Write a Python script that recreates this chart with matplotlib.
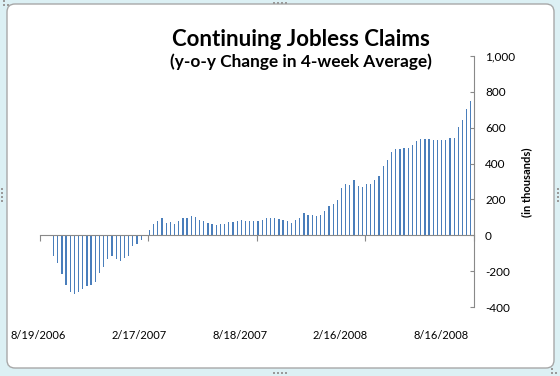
import matplotlib.pyplot as plt
from matplotlib.patches import FancyBboxPatch, Rectangle

# weekly y-o-y change in 4-week average of continuing claims (thousands), starting 8/19/2006
claims_change = [
    -2, -4, -6, -113, -155, -218, -279, -316, -329, -316,
    -301, -285, -279, -263, -213, -179, -135, -113, -135, -146,
    -124, -118, -61, -50, -24, -6, 31, 65, 81, 98,
    70, 76, 65, 81, 98, 98, 109, 104, 87, 81,
    70, 65, 59, 65, 65, 76, 76, 81, 87, 81,
    81, 81, 81, 87, 98, 98, 98, 92, 87, 81,
    70, 87, 98, 126, 115, 115, 109, 115, 137, 165,
    176, 198, 265, 286, 280, 310, 275, 269, 286, 286,
    308, 330, 386, 419, 464, 480, 480, 486, 486, 503,
    525, 536, 536, 536, 531, 531, 531, 531, 542, 542,
    603, 642, 703, 748,
]
date_labels = ['8/19/2006', '2/17/2007', '8/18/2007', '2/16/2008', '8/16/2008']
y_ticks = [-400, -200, 0, 200, 400, 600, 800, 1000]

plt.rcParams['font.family'] = ['Lato', 'DejaVu Sans']
bar_color = '#4a7ebb'
axis_color = '#898989'

fig = plt.figure(figsize=(5.6, 3.76), dpi=100)
fig.patch.set_facecolor('#dcf0f4')

# white rounded chart area
frame = FancyBboxPatch((0.15, 0.16), 5.31, 3.48, boxstyle='round,pad=0.08',
                       transform=fig.dpi_scale_trans, facecolor='white',
                       edgecolor='#a8a8a8', linewidth=1.0, zorder=-10)
fig.patches.append(frame)

# little resize handles on the frame
def handle(x, y):
    fig.patches.append(Rectangle((x, y), 0.02, 0.02, transform=fig.dpi_scale_trans,
                                 facecolor='#9a9a9a', linewidth=0, zorder=-9))

for k in range(4):
    handle(2.73 + k * 0.04, 3.72)
    handle(2.73 + k * 0.04, 0.02)
    handle(0.01, 1.74 + k * 0.04)
    handle(5.57, 1.74 + k * 0.04)
for cx, cy in [(0.03, 3.70), (5.51, 0.02)]:
    handle(cx, cy)
    handle(cx + 0.04, cy)
    handle(cx, cy + 0.04)

ax = fig.add_axes([0.0714, 0.1835, 0.775, 0.6676])
ax.set_facecolor('none')

weeks = [i + 0.25 for i in range(len(claims_change))]
ax.bar(weeks, claims_change, width=0.3, color=bar_color, linewidth=0)

ax.set_xlim(0, 104)
ax.set_ylim(-400, 1000)

ax.spines['left'].set_visible(False)
ax.spines['top'].set_visible(False)
ax.spines['bottom'].set_position(('data', 0))
ax.spines['bottom'].set_color(axis_color)
ax.spines['right'].set_color(axis_color)

ax.set_xticks([0, 26, 52, 78, 104])
ax.set_xticklabels([])
ax.tick_params(axis='x', direction='out', length=4, color=axis_color)

ax.yaxis.tick_right()
ax.set_yticks(y_ticks)
ax.set_yticklabels([f'{v:,}' for v in y_ticks])
ax.tick_params(axis='y', direction='in', length=3, color=axis_color,
               labelsize=8.5, pad=8)

for i, lab in enumerate(date_labels):
    ax.text(-0.004 + i * 0.232, -0.112, lab, transform=ax.transAxes,
            ha='center', va='center', fontsize=8)

fig.text(0.537, 0.8777, 'Continuing Jobless Claims', ha='center', va='baseline',
         fontsize=16, fontweight='bold')
fig.text(0.537, 0.8226, '(y-o-y Change in 4-week Average)', ha='center', va='baseline',
         fontsize=12.4, fontweight='bold')
fig.text(0.941, 0.5146, '(in thousands)', rotation=90, ha='center', va='center',
         fontsize=8, fontweight='bold')

fig.savefig('out.png', dpi=100)
